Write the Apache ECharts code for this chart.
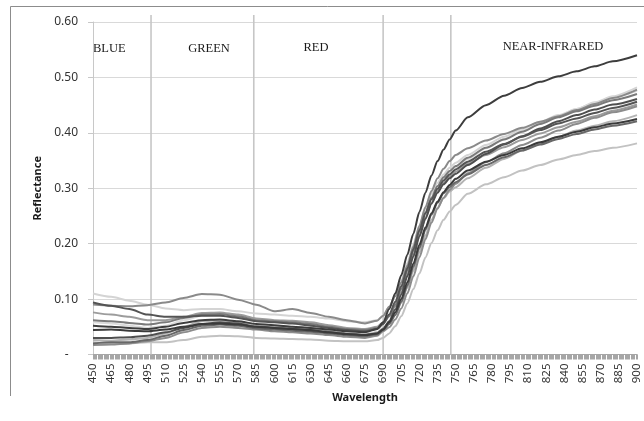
<!DOCTYPE html>
<html>
<head>
<meta charset="utf-8">
<style>
  html, body { margin: 0; padding: 0; background: #ffffff; }
  #chart { width: 644px; height: 421px; }
</style>
<script src="https://cdn.jsdelivr.net/npm/echarts@6/dist/echarts.min.js"></script>
</head>
<body>
<div id="chart"></div>
<script>
// Wavelengths (nm) at which each reflectance spectrum is sampled
const sampleNm = [450,465,480,495,510,525,540,555,570,585,600,615,630,645,660,675,685,690,
                  695,700,705,710,715,720,725,730,735,740,745,750,
                  760,775,790,805,820,835,850,865,880,900];

// Reflectance spectra, one array per sample
const specA = [0.052,0.050,0.048,0.046,0.050,0.057,0.062,0.063,0.060,0.055,0.053,0.050,0.048,0.045,0.042,0.040,0.046,0.058,
               0.082,0.110,0.143,0.180,0.218,0.257,0.292,0.323,0.349,0.370,0.388,0.404,
               0.428,0.450,0.467,0.481,0.492,0.502,0.511,0.520,0.529,0.540];
const specB = [0.090,0.088,0.087,0.089,0.094,0.102,0.109,0.108,0.099,0.090,0.078,0.082,0.075,0.068,0.062,0.056,0.061,0.070,
               0.086,0.105,0.130,0.160,0.195,0.232,0.266,0.295,0.318,0.335,0.349,0.360,
               0.372,0.386,0.398,0.409,0.420,0.430,0.441,0.452,0.463,0.478];
const specC = [0.110,0.104,0.097,0.090,0.083,0.080,0.082,0.082,0.078,0.074,0.072,0.070,0.068,0.065,0.060,0.058,0.062,0.070,
               0.086,0.106,0.133,0.165,0.199,0.233,0.264,0.290,0.310,0.325,0.337,0.346,
               0.360,0.378,0.393,0.407,0.420,0.432,0.443,0.455,0.466,0.482];
const specD = [0.094,0.088,0.082,0.072,0.068,0.068,0.070,0.070,0.066,0.060,0.058,0.056,0.052,0.048,0.044,0.042,0.046,0.055,
               0.072,0.095,0.123,0.155,0.190,0.224,0.255,0.280,0.299,0.314,0.325,0.334,
               0.348,0.366,0.380,0.393,0.405,0.417,0.426,0.436,0.445,0.456];
const specE = [0.044,0.045,0.043,0.042,0.045,0.050,0.055,0.056,0.054,0.050,0.048,0.046,0.044,0.040,0.037,0.035,0.038,0.045,
               0.058,0.076,0.100,0.130,0.164,0.198,0.229,0.255,0.276,0.293,0.306,0.317,
               0.332,0.348,0.360,0.372,0.383,0.393,0.402,0.410,0.417,0.425];
const specF = [0.022,0.020,0.020,0.022,0.022,0.026,0.032,0.034,0.033,0.030,0.029,0.028,0.027,0.025,0.024,0.024,0.026,0.030,
               0.038,0.051,0.069,0.092,0.118,0.146,0.175,0.201,0.224,0.243,0.258,0.270,
               0.290,0.307,0.320,0.332,0.342,0.352,0.360,0.367,0.373,0.381];
const specG = [0.062,0.060,0.057,0.054,0.058,0.066,0.072,0.073,0.069,0.062,0.060,0.058,0.055,0.050,0.046,0.044,0.048,0.056,
               0.069,0.090,0.118,0.151,0.187,0.223,0.256,0.283,0.304,0.320,0.331,0.340,
               0.355,0.373,0.388,0.402,0.416,0.428,0.439,0.449,0.459,0.470];
const specH = [0.076,0.072,0.068,0.062,0.062,0.068,0.075,0.076,0.072,0.065,0.062,0.061,0.058,0.053,0.048,0.046,0.050,0.058,
               0.069,0.087,0.112,0.144,0.180,0.215,0.247,0.274,0.295,0.310,0.321,0.330,
               0.344,0.360,0.374,0.387,0.399,0.410,0.420,0.430,0.440,0.451];
const specI = [0.026,0.025,0.027,0.030,0.038,0.050,0.060,0.062,0.058,0.052,0.050,0.048,0.046,0.042,0.038,0.036,0.040,0.048,
               0.057,0.072,0.093,0.120,0.151,0.184,0.215,0.243,0.265,0.282,0.294,0.302,
               0.318,0.337,0.353,0.368,0.381,0.393,0.404,0.413,0.421,0.432];
const specJ = [0.020,0.022,0.022,0.026,0.034,0.044,0.052,0.054,0.052,0.047,0.045,0.043,0.041,0.038,0.035,0.033,0.036,0.044,
               0.055,0.071,0.095,0.124,0.158,0.192,0.225,0.252,0.274,0.291,0.302,0.311,
               0.325,0.342,0.356,0.368,0.379,0.389,0.398,0.406,0.413,0.421];
const specK = [0.058,0.056,0.052,0.048,0.052,0.062,0.070,0.072,0.068,0.062,0.059,0.057,0.054,0.050,0.046,0.043,0.047,0.056,
               0.071,0.092,0.120,0.153,0.189,0.225,0.257,0.283,0.303,0.318,0.329,0.337,
               0.353,0.372,0.389,0.404,0.418,0.431,0.443,0.454,0.464,0.476];
const specL = [0.030,0.030,0.031,0.034,0.040,0.048,0.055,0.058,0.056,0.050,0.048,0.046,0.043,0.040,0.037,0.035,0.038,0.046,
               0.060,0.081,0.108,0.141,0.177,0.213,0.245,0.272,0.292,0.307,0.318,0.326,
               0.342,0.362,0.379,0.394,0.408,0.421,0.432,0.442,0.451,0.461];
const specM = [0.017,0.018,0.020,0.024,0.030,0.040,0.048,0.050,0.048,0.045,0.042,0.040,0.038,0.035,0.032,0.030,0.034,0.042,
               0.049,0.063,0.083,0.110,0.141,0.175,0.208,0.238,0.263,0.283,0.297,0.308,
               0.327,0.347,0.363,0.378,0.391,0.404,0.416,0.427,0.437,0.448];

// Drawing order (light first, dark on top) with each line's grey
const spectra = [
  { data: specC, color: '#d4d4d4' },
  { data: specK, color: '#dadada' },
  { data: specF, color: '#c2c2c2' },
  { data: specI, color: '#b3b3b3' },
  { data: specH, color: '#9c9c9c' },
  { data: specB, color: '#8a8a8a' },
  { data: specM, color: '#8c8c8c' },
  { data: specG, color: '#7a7a7a' },
  { data: specJ, color: '#686868' },
  { data: specL, color: '#4f4f4f' },
  { data: specD, color: '#545454' },
  { data: specE, color: '#3a3a3a' },
  { data: specA, color: '#3d3d3d' }
];

// Spectral region boundaries (nm) and region names
const regionEdges = [498, 583, 690, 746];
const regionNames = ['BLUE', 'GREEN', 'RED', 'NEAR-INFRARED'];

const chart = echarts.init(document.getElementById('chart'), null, { renderer: 'canvas' });

const series = spectra.map((s, i) => ({
  type: 'line',
  data: sampleNm.map((nm, k) => [nm, s.data[k]]),
  symbol: 'none',
  smooth: 0.25,
  smoothMonotone: 'x',
  lineStyle: { color: s.color, width: 2 },
  z: 3 + i,
  silent: true
}));

const frameAndLabels = [
  // chart frame
  { type: 'line', shape: { x1: 10.5, y1: 6.5, x2: 644, y2: 6.5 }, style: { stroke: '#8c8c8c', lineWidth: 1 }, silent: true },
  { type: 'line', shape: { x1: 10.5, y1: 6.5, x2: 10.5, y2: 396 }, style: { stroke: '#8c8c8c', lineWidth: 1 }, silent: true },
  // region names
  { type: 'text', left: 93, top: 42, style: { text: regionNames[0], font: '12.5px "Liberation Serif"', fill: '#1a1a1a' }, silent: true },
  { type: 'text', x: 209, y: 49, style: { text: regionNames[1], font: '12.5px "Liberation Serif"', fill: '#1a1a1a', align: 'center', verticalAlign: 'middle' }, silent: true },
  { type: 'text', x: 316, y: 48, style: { text: regionNames[2], font: '12.5px "Liberation Serif"', fill: '#1a1a1a', align: 'center', verticalAlign: 'middle' }, silent: true },
  { type: 'text', x: 553, y: 47, style: { text: regionNames[3], font: '12.5px "Liberation Serif"', fill: '#1a1a1a', align: 'center', verticalAlign: 'middle' }, silent: true }
];

const option = {
  animation: false,
  backgroundColor: '#ffffff',
  grid: { left: 93, right: 7, top: 22, bottom: 66.5 },
  xAxis: {
    type: 'value',
    min: 450,
    max: 900,
    interval: 15,
    name: 'Wavelength',
    nameLocation: 'middle',
    nameGap: 38,
    nameTextStyle: { fontFamily: 'Noto Sans', fontWeight: 'bold', fontSize: 11, color: '#1a1a1a' },
    axisLine: { show: true, lineStyle: { color: '#a6a6a6', width: 1 } },
    axisTick: { show: true, length: 5, lineStyle: { color: '#a6a6a6' } },
    minorTick: { show: true, splitNumber: 15, length: 5, lineStyle: { color: '#a6a6a6' } },
    splitLine: { show: false },
    axisLabel: {
      rotate: 90,
      margin: 9,
      fontFamily: 'Noto Sans',
      fontSize: 11.5,
      color: '#333333'
    }
  },
  yAxis: {
    type: 'value',
    min: 0,
    max: 0.6,
    interval: 0.1,
    name: 'Reflectance',
    nameLocation: 'middle',
    nameRotate: 90,
    nameGap: 50,
    nameTextStyle: { fontFamily: 'Noto Sans', fontWeight: 'bold', fontSize: 11, color: '#1a1a1a' },
    axisLine: { show: true, lineStyle: { color: '#c8c8c8' } },
    axisTick: { show: true, length: 5, lineStyle: { color: '#c8c8c8' } },
    splitLine: { lineStyle: { color: '#d9d9d9', width: 1 } },
    axisLabel: {
      margin: 15,
      fontFamily: 'Noto Sans',
      fontSize: 12,
      color: '#333333',
      formatter: v => (Math.abs(v) < 1e-9 ? '-   ' : v.toFixed(2))
    }
  },
  series: series,
  graphic: frameAndLabels
};

chart.setOption(option);

// Region boundary lines, placed through the axis scales; they rise a little above the plot top
const edgeLines = regionEdges.map(nm => {
  const bottom = chart.convertToPixel({ gridIndex: 0 }, [nm, 0]);
  const top = chart.convertToPixel({ gridIndex: 0 }, [nm, 0.6]);
  return {
    type: 'line',
    shape: { x1: bottom[0], y1: bottom[1], x2: top[0], y2: top[1] - 7 },
    style: { stroke: '#c6c6c6', lineWidth: 1.6 },
    z: 1,
    silent: true
  };
});
chart.setOption({ graphic: frameAndLabels.concat(edgeLines) });
</script>
</body>
</html>
